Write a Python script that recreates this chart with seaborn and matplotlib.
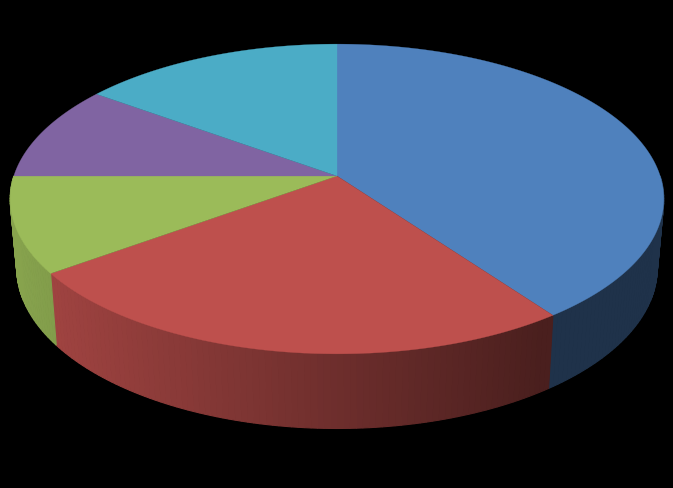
import numpy as np
import matplotlib
matplotlib.use('Agg')
import matplotlib.pyplot as plt
import seaborn as sns

# slices clockwise from 12 o'clock, percent
labels = ['blue', 'red', 'green', 'purple', 'teal']
values = [40, 25, 10, 10, 15]
colors = ['#4F81BD', '#BE504D', '#9BBB59', '#8064A2', '#4BACC6']

# perspective of the disc, in pixels
cx, cy = 337, 176
a, b, k = 323.2, 151.5, 0.1484


def top_rim(theta):
    u, v = np.sin(theta), np.cos(theta)
    return a * u / (1 + k * v), b * v / (1 + k * v)


def bottom_rim(theta):
    x, y = top_rim(theta)
    return 0.98 * x, 1.037 * y - 68


def side_shade(x):
    # side wall gets darker to the right
    return np.clip(0.87 - 0.5 * (x + 317) / 540, 0.39, 0.87)


sns.set_theme(style='dark', rc={'figure.facecolor': 'black', 'axes.facecolor': 'black'})
palette = sns.color_palette(colors)

fig, ax = plt.subplots(figsize=(6.73, 4.88), dpi=100)
ax.set_position([0, 0, 1, 1])
ax.set_xlim(0, 673)
ax.set_ylim(488, 0)
ax.axis('off')

edges = np.radians(np.cumsum([0] + values) * 3.6)

# side wall first, only the front half of the disc shows one
for i, col in enumerate(palette):
    start, end = max(edges[i], np.pi / 2), min(edges[i + 1], 3 * np.pi / 2)
    if end <= start:
        continue
    n = max(2, int(np.degrees(end - start)))
    t = np.linspace(start, end, n + 1)
    for t0, t1 in zip(t[:-1], t[1:]):
        x0, y0 = top_rim(np.array([t0, t1]))
        x1, y1 = bottom_rim(np.array([t1, t0]))
        xs = np.r_[x0, x1]
        ys = np.r_[y0, y1]
        shade = tuple(np.array(col) * side_shade(xs.mean()))
        ax.fill(cx + xs, cy - ys, color=shade, lw=0.8, zorder=2)

# top face
for i, col in enumerate(palette):
    t = np.linspace(edges[i], edges[i + 1], 200)
    x, y = top_rim(t)
    ax.fill(cx + np.r_[0, x], cy - np.r_[0, y], color=col, lw=0.2, zorder=3)

fig.savefig('out.png', dpi=100, facecolor='black')
